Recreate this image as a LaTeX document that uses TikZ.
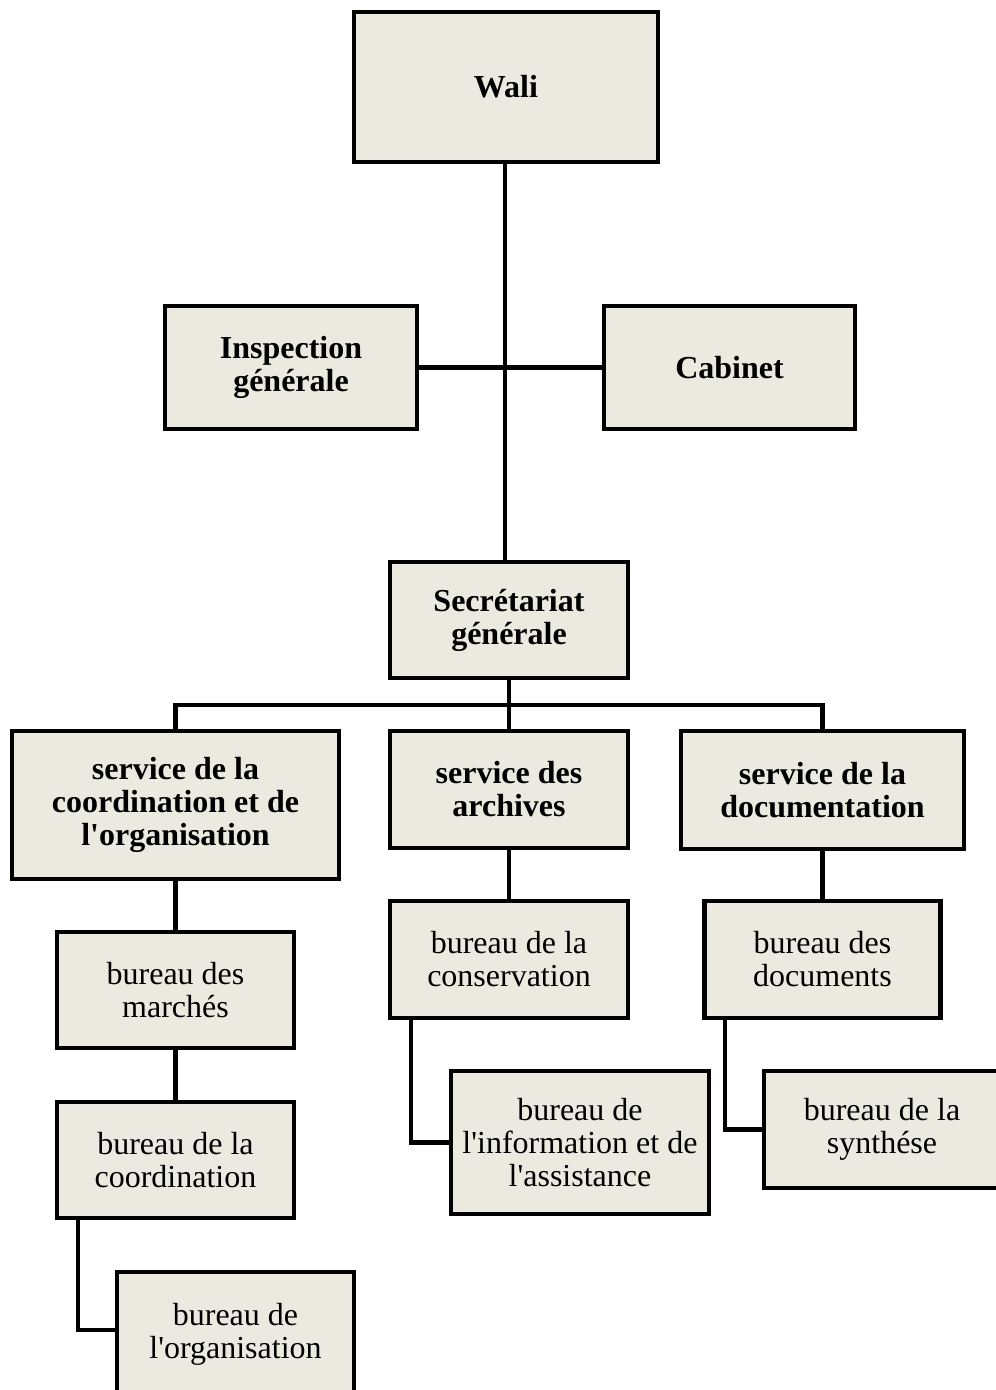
\documentclass[tikz,border=0pt]{standalone}
\usepackage{fontspec}
\setmainfont{Liberation Serif}
\usepackage{xcolor}
\usepackage{tikz}
\usetikzlibrary{positioning}
\definecolor{boxfill}{HTML}{ECEAE0}
\newcommand{\ap}{\textquotesingle}

\begin{document}
\begin{tikzpicture}[
    x=1pt, y=-1pt,
    unit/.style={rectangle, draw=black, fill=boxfill, line width=4.6pt, inner sep=0pt, font=\fontsize{32}{33}\selectfont\bfseries, align=center},
    office/.style={rectangle, draw=black, fill=boxfill, line width=4.6pt, inner sep=0pt, font=\fontsize{32}{33}\selectfont, align=center, minimum width=237pt, minimum height=116pt},
    link/.style={line width=4.4pt, black}
]
\useasboundingbox (0,0) rectangle (996,1390);

% Links (behind the boxes)
\coordinate (bus) at (509,705);
\coordinate (top) at (505,164);
\draw[link] (top) -- (505,560);
\draw[link] (291,367.5) -- (729.5,367.5);
\draw[link] (509,680) -- (bus);
\draw[link] (175.5,729) |- (bus) -| (822.5,729);
\draw[link] (509,705) -- (509,729);

% Top
\node[unit, minimum width=304pt, minimum height=150pt] (wali) at (506,87) {Wali};
\node[unit, minimum width=252pt, minimum height=123pt] (insp) at (291,367.5) {Inspection\\générale};
\node[unit, minimum width=251pt, minimum height=123pt] (cab) at (729.5,367.5) {Cabinet};
\node[unit, minimum width=238pt, minimum height=116pt] (sg) at (509,620) {Secrétariat\\générale};

% Services
\node[unit, minimum width=327pt, minimum height=148pt] (srv1) at (175.5,805) {service de la\\coordination et de\\l\ap organisation};
\node[unit, minimum width=238pt, minimum height=117pt] (srv2) at (509,789.5) {service des\\archives};
\node[unit, minimum width=283pt, minimum height=118pt] (srv3) at (822.5,790) {service de la\\documentation};

% Bureaux
\node[office] (marches) at (175.5,990) {bureau des\\marchés};
\node[office] (coord) at (175.5,1160) {bureau de la\\coordination};
\node[office, minimum height=124pt] (orga) at (235.5,1334) {bureau de\\l\ap organisation};
\node[office, minimum width=238pt, minimum height=117pt] (conserv) at (509,959.5) {bureau de la\\conservation};
\node[office, minimum width=258pt, minimum height=143pt] (info) at (580,1142.5) {bureau de\\l\ap information et de\\l\ap assistance};
\node[office, minimum width=236pt, minimum height=117pt] (docs) at (822.5,959.5) {bureau des\\documents};
\node[office, minimum width=236pt, minimum height=117pt] (synth) at (882,1129.5) {bureau de la\\synthése};

% Links to bureaux
\draw[link] (srv1.south) -- (marches.north);
\draw[link] (marches.south) -- (coord.north);
\draw[link] ([xshift=23pt]coord.south west) |- ([yshift=4pt]orga.west);
\draw[link] (srv2.south) -- (conserv.north);
\draw[link] ([xshift=23pt]conserv.south west) |- (info.west);
\draw[link] (srv3.south) -- (docs.north);
\draw[link] ([xshift=23pt]docs.south west) |- (synth.west);
\end{tikzpicture}
\end{document}
